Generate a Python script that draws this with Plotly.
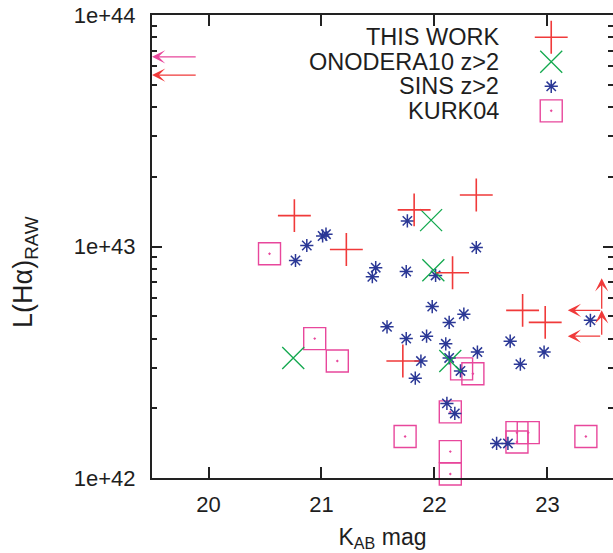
import numpy as np
import plotly.graph_objects as go

# ---------------- data ----------------
this_x = [20.76, 21.22, 21.82, 22.37, 22.16, 21.72, 22.78, 22.98]
this_y = [1.36e43, 9.7e42, 1.44e43, 1.67e43, 7.7e42, 3.2e42, 5.3e42, 4.7e42]

onod_x = [21.97, 21.99, 20.75, 22.14]
onod_y = [1.30e43, 7.9e42, 3.3e42, 3.2e42]

sins_x = [20.87, 20.77, 21.01, 21.04, 21.48, 21.45, 21.76, 22.37, 21.75, 22.01,
          21.98, 22.26, 22.13, 21.58, 21.93, 21.75, 22.10, 22.67, 22.38, 21.88,
          22.13, 22.23, 22.76, 21.83, 23.38, 22.97, 22.11, 22.18, 22.55, 22.65]
sins_y = [1.01e43, 8.7e42, 1.11e43, 1.13e43, 8.1e42, 7.4e42, 1.29e43, 9.9e42, 7.8e42, 7.5e42,
          5.5e42, 5.1e42, 4.7e42, 4.5e42, 4.1e42, 4.0e42, 3.8e42, 3.9e42, 3.5e42, 3.2e42,
          3.3e42, 2.9e42, 3.1e42, 2.7e42, 4.8e42, 3.5e42, 2.1e42, 1.9e42, 1.41e42, 1.41e42]

kurk_x = [20.54, 20.94, 21.14, 22.24, 22.34, 21.74, 22.14, 22.14, 22.14, 22.73, 22.83, 22.73, 23.34]
kurk_y = [9.3e42, 4.0e42, 3.2e42, 2.96e42, 2.82e42, 1.51e42, 1.93e42, 1.30e42, 1.04e42,
          1.57e42, 1.57e42, 1.43e42, 1.51e42]

# limits drawn as arrows: (tail x, head x, y)
lim_left_tail_x = [19.90, 19.90, 23.48, 23.48]
lim_left_head_x = [19.50, 19.50, 23.18, 23.18]
lim_left_y = [6.6e43, 5.5e43, 5.3e42, 4.1e42]
lim_left_series = ["KURK04", "THIS WORK", "THIS WORK", "THIS WORK"]
# upward arrows: (x, from y, to y)
lim_up_x = [23.48, 23.48]
lim_up_from = [4.1e42, 5.3e42]
lim_up_to = [5.3e42, 7.3e42]

series_names = ["THIS WORK", "ONODERA10 z>2", "SINS z>2", "KURK04"]
x_ticks = [20, 21, 22, 23]
y_tickvals = [1e42, 1e43, 1e44]
y_ticktext = ["1e+42", "1e+43", "1e+44"]
x_title = "K<sub>AB</sub> mag"
y_title = "L(Hα)<sub>RAW</sub>"

# ---------------- style ----------------
RED = "#f03a3a"
GREEN = "#12a84e"
BLUE = "#2b3896"
PINK = "#e8479c"
FONT = "Liberation Sans, Arial, sans-serif"
TXT = "#1e1e1e"
AX = "#222"

styles = {
    "THIS WORK": dict(symbol="cross-thin-open", size=23.5, color=RED, lw=1.6),
    "ONODERA10 z>2": dict(symbol="x-thin-open", size=22, color=GREEN, lw=1.3),
    "SINS z>2": dict(symbol="asterisk-open", size=11, color=BLUE, lw=1.5),
    "KURK04": dict(symbol="square-open-dot", size=22, color=PINK, lw=1.4),
}
color_of = {k: v["color"] for k, v in styles.items()}

fig = go.Figure()

data = {
    "THIS WORK": (this_x, this_y),
    "ONODERA10 z>2": (onod_x, onod_y),
    "SINS z>2": (sins_x, sins_y),
    "KURK04": (kurk_x, kurk_y),
}
for name in ["KURK04", "SINS z>2", "ONODERA10 z>2", "THIS WORK"]:
    xs, ys = data[name]
    s = styles[name]
    fig.add_trace(go.Scatter(
        x=xs, y=ys, mode="markers", name=name, showlegend=False,
        marker=dict(symbol=s["symbol"], size=s["size"], color=s["color"],
                    line=dict(color=s["color"], width=s["lw"])),
        cliponaxis=False,
    ))

# custom gnuplot-style key (text right aligned, sample on the right)
key_top = 0.952
key_step = 0.053
key_text_x = 0.757
key_sym_x = 0.866
for i, name in enumerate(series_names):
    s = styles[name]
    yk = key_top - i * key_step
    fig.add_annotation(x=key_text_x, y=yk, xref="paper", yref="paper",
                       text=name, showarrow=False, xanchor="right", yanchor="middle",
                       font=dict(family=FONT, size=23.5, color=TXT))
    fig.add_trace(go.Scatter(
        x=[key_sym_x], y=[yk], xaxis="x2", yaxis="y2", mode="markers",
        showlegend=False, hoverinfo="skip",
        marker=dict(symbol=s["symbol"], size=s["size"], color=s["color"],
                    line=dict(color=s["color"], width=s["lw"])),
    ))

# limit arrows
for tx, hx, yv, ser in zip(lim_left_tail_x, lim_left_head_x, lim_left_y, lim_left_series):
    fig.add_annotation(x=hx, y=np.log10(yv), ax=tx, ay=np.log10(yv),
                       xref="x", yref="y", axref="x", ayref="y",
                       showarrow=True, arrowhead=3, arrowsize=1.7, arrowwidth=1.3,
                       arrowcolor=color_of[ser], text="")
for xv, y0, y1 in zip(lim_up_x, lim_up_from, lim_up_to):
    fig.add_annotation(x=xv, y=np.log10(y1), ax=xv, ay=np.log10(y0),
                       xref="x", yref="y", axref="x", ayref="y",
                       showarrow=True, arrowhead=3, arrowsize=1.7, arrowwidth=1.3,
                       arrowcolor=RED, text="")

# y-axis label (gnuplot places it a little below the axis centre)
fig.add_annotation(x=-0.2755, y=0.445, xref="paper", yref="paper", text=y_title,
                   textangle=-90, showarrow=False, xanchor="center", yanchor="middle",
                   font=dict(family=FONT, size=27, color=TXT))

tickfont = dict(family=FONT, size=22, color=TXT)
minor_vals = [m * 10.0 ** e for e in (42, 43) for m in range(2, 10)]

fig.update_layout(
    width=613, height=553,
    margin=dict(l=152, r=0, t=15, b=75),
    paper_bgcolor="white", plot_bgcolor="white",
    showlegend=False,
    xaxis=dict(range=[19.5, 23.58], tickmode="array", tickvals=x_ticks, ticklen=11,
               ticklabelstandoff=6, showline=True, linecolor=AX, linewidth=2, mirror="ticks",
               ticks="inside", tickcolor=AX, tickwidth=1.5, showgrid=False, zeroline=False,
               tickfont=tickfont,
               title=dict(text=x_title, font=dict(family=FONT, size=23, color=TXT),
                          standoff=12)),
    yaxis=dict(type="log", range=[42, 44], tickmode="array", tickvals=y_tickvals,
               ticktext=y_ticktext, ticklen=10, ticklabelstandoff=10,
               showline=True, linecolor=AX, linewidth=2, mirror=False,
               ticks="inside", tickcolor=AX, tickwidth=1.5, showgrid=False, zeroline=False,
               tickfont=tickfont,
               minor=dict(ticks="inside", ticklen=5, tickwidth=1.5, tickcolor=AX,
                          tickvals=minor_vals)),
    # right-hand ticks without a border line (the border lies just outside the crop)
    yaxis3=dict(type="log", range=[42, 44], overlaying="y", side="right",
                tickmode="array", tickvals=y_tickvals, showticklabels=False,
                ticks="inside", ticklen=10, tickwidth=1.5, tickcolor=AX, showline=False,
                showgrid=False, zeroline=False,
                minor=dict(ticks="inside", ticklen=5, tickwidth=1.5, tickcolor=AX,
                           tickvals=minor_vals)),
    xaxis2=dict(range=[0, 1], overlaying="x", visible=False, fixedrange=True),
    yaxis2=dict(range=[0, 1], overlaying="y", visible=False, fixedrange=True),
)

# dummy trace to bind the right-hand tick axis
fig.add_trace(go.Scatter(x=[None], y=[None], yaxis="y3", showlegend=False, hoverinfo="skip"))

fig.write_html("out.html")
